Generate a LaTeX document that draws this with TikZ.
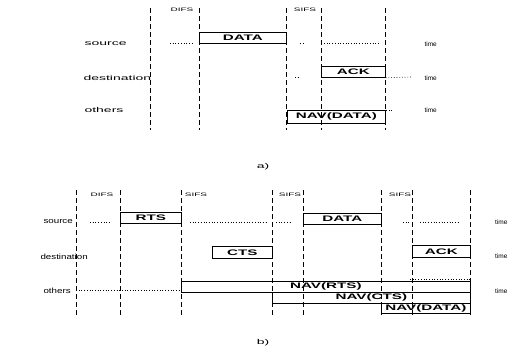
\documentclass[tikz,border=0pt]{standalone}
\usepackage{fontspec}
\setmainfont{Liberation Sans}
\newfontfamily\widefont[FakeStretch=2.0]{Liberation Sans}
\newfontfamily\partyfont[FakeStretch=1.3]{Liberation Sans}
\newfontfamily\boxfont[FakeStretch=1.9]{Liberation Sans Bold}
\usetikzlibrary{positioning}

\begin{document}
\begin{tikzpicture}[x=1pt,y=-1pt,
  every node/.style={font=\widefont\fontsize{7}{8}\selectfont},
  gap/.style={font=\widefont\fontsize{5}{6}\selectfont},
  clock/.style={anchor=west,font=\fontsize{6.5}{7}\selectfont},
  party/.style={anchor=west,font=\partyfont\fontsize{7.5}{8}\selectfont},
  slot/.style={dash pattern=on 5pt off 3pt,line width=0.8pt},
  frame/.style={draw,line width=0.8pt,minimum height=11pt,inner sep=0pt,
    anchor=north west,font=\boxfont\fontsize{8}{9}\selectfont},
  idle/.style={dotted,line width=0.7pt}]
  \useasboundingbox (0,0) rectangle (511,349);

  % a) basic access
  \foreach \x in {150,199,286,321,385}
    \draw[slot] (\x,8) -- (\x,130);
  \node[anchor=west] (srcA) at (81,44) {source};
  \node[anchor=west] (dstA) at (80,78) {destination};
  \node[anchor=west] (othA) at (81,110) {others};
  \node[gap] (difsA) at (182,10) {DIFS};
  \node[gap] (sifsA) at (305,10) {SIFS};
  \node[frame,minimum width=87pt] (dataA) at (199,32) {DATA};
  \node[frame,minimum width=64pt] (ackA) at (321,66) {ACK};
  \node[frame,minimum width=98pt,minimum height=13pt] (navA) at (287,110) {NAV(DATA)};
  \node[clock] (timeA1) at (421,44) {time};
  \node[clock] (timeA2) at (421,78) {time};
  \node[clock] (timeA3) at (421,110) {time};
  \draw[idle] (170,43) -- (194,43);
  \draw[idle] (300,43) -- (304,43);
  \draw[idle] (324,43) -- (380,43);
  \draw[idle] (295,77) -- (299,77);
  \draw[idle] (ackA.south east) -- (411,77);
  \draw[idle] (386,110) -- (392,110);
  \node (capA) at (263,167) {a)};

  % b) RTS/CTS access
  \foreach \x in {76,120,181,272,303,381,412,470}
    \draw[slot] (\x,190) -- (\x,317);
  \node[party] (srcB) at (40,222) {source};
  \node[party] (dstB) at (37,257) {destination};
  \node[party] (othB) at (40,291) {others};
  \node[gap] (difsB) at (102,195) {DIFS};
  \node[gap] (sifsB1) at (196,195) {SIFS};
  \node[gap] (sifsB2) at (290,195) {SIFS};
  \node[gap] (sifsB3) at (400,195) {SIFS};
  \node[frame,minimum width=61pt] (rtsB) at (120,212) {RTS};
  \node[frame,minimum width=78pt] (dataB) at (303,213) {DATA};
  \node[frame,minimum width=60pt,minimum height=12pt] (ctsB) at (212,246) {CTS};
  \node[frame,minimum width=58pt,minimum height=12pt] (ackB) at (412,245) {ACK};
  \node[frame,minimum width=289pt] (navrtsB) at (181,281) {NAV(RTS)};
  \node[frame,minimum width=198pt,minimum height=11pt] (navctsB) at (272,292) {NAV(CTS)};
  \node[frame,minimum width=89pt,minimum height=10pt] (navdataB) at (381,303) {NAV(DATA)};
  \node[clock,anchor=east] (timeB1) at (511,222) {time};
  \node[clock,anchor=east] (timeB2) at (511,256) {time};
  \node[clock,anchor=east] (timeB3) at (511,291) {time};
  \draw[idle] (90,222) -- (110,222);
  \draw[idle] (190,222) -- (268,222);
  \draw[idle] (276,222) -- (290,222);
  \draw[idle] (403,222) -- (409,222);
  \draw[idle] (420,222) -- (460,222);
  \draw[idle] (76,290) -- (181,290);
  \draw[idle] (410,279) -- (470,279);
  \node (capB) at (263,343) {b)};
\end{tikzpicture}
\end{document}
